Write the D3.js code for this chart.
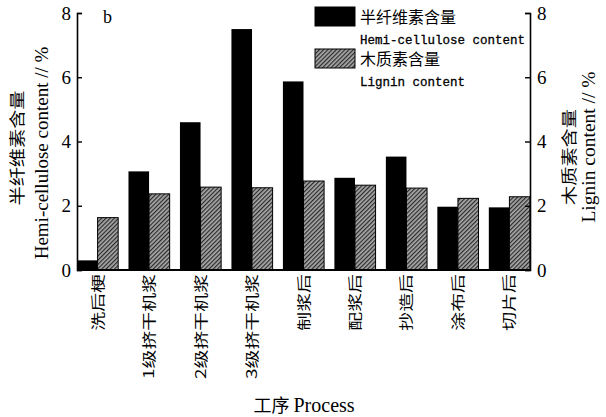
<!DOCTYPE html>
<html>
<head>
<meta charset="utf-8">
<script src="https://cdn.jsdelivr.net/npm/d3@7/dist/d3.min.js"></script>
<style>
  html, body { margin: 0; padding: 0; background: #fff; }
  svg { display: block; }
  .serif { font-family: "Liberation Serif", "Times New Roman", serif; }
  .cjk { font-family: "Noto Sans CJK SC", sans-serif; }
  .mono { font-family: "Liberation Mono", monospace; }
</style>
</head>
<body>
<div id="graph"></div>
<script>
const processes = ['洗后梗', '1级挤干机浆', '2级挤干机浆', '3级挤干机浆', '制浆后', '配浆后', '抄造后', '涂布后', '切片后'];
const hemiValues = [0.3, 3.07, 4.6, 7.5, 5.87, 2.87, 3.53, 1.97, 1.95];
const ligninValues = [1.63, 2.37, 2.58, 2.56, 2.77, 2.64, 2.55, 2.23, 2.28];
const yTicks = [0, 2, 4, 6, 8];

const SERIF = '"Liberation Serif", "Times New Roman", serif';

const W = 606;
const H = 417;
const margin = { top: 13, right: 76, bottom: 147, left: 77 };
const width = W - margin.left - margin.right;
const height = H - margin.top - margin.bottom;

const svg = d3.select('#graph')
  .append('svg')
  .attr('width', W)
  .attr('height', H);

// hatch for lignin bars
const defs = svg.append('defs');
const pat = defs.append('pattern')
  .attr('id', 'hatch')
  .attr('patternUnits', 'userSpaceOnUse')
  .attr('width', 3)
  .attr('height', 3)
  .attr('patternTransform', 'rotate(45)');
pat.append('rect').attr('width', 3).attr('height', 3).attr('fill', '#a8a8a8');
pat.append('line')
  .attr('x1', 0.6).attr('y1', 0).attr('x2', 0.6).attr('y2', 3)
  .attr('stroke', '#2a2a2a').attr('stroke-width', 1.2);

const g = svg.append('g')
  .attr('transform', `translate(${margin.left},${margin.top})`);

const xScale = d3.scaleBand()
  .domain(processes)
  .range([0, width])
  .paddingInner(0.2)
  .paddingOuter(0);

const sub = d3.scaleBand()
  .domain(['hemi', 'lignin'])
  .range([0, xScale.bandwidth()]);

const yScale = d3.scaleLinear().domain([0, 8]).range([height, 0]);

// bars
const groups = g.selectAll('.grp')
  .data(processes)
  .enter()
  .append('g')
  .attr('transform', (d) => `translate(${xScale(d)},0)`);

groups.append('rect')
  .attr('x', sub('hemi'))
  .attr('y', (d, i) => yScale(hemiValues[i]))
  .attr('width', sub.bandwidth())
  .attr('height', (d, i) => height - yScale(hemiValues[i]))
  .attr('fill', '#000');

groups.append('rect')
  .attr('x', sub('lignin'))
  .attr('y', (d, i) => yScale(ligninValues[i]))
  .attr('width', sub.bandwidth())
  .attr('height', (d, i) => height - yScale(ligninValues[i]))
  .attr('fill', 'url(#hatch)')
  .attr('stroke', '#000')
  .attr('stroke-width', 1);

// axes
const leftAxis = d3.axisLeft(yScale).tickValues(yTicks).tickSize(-5).tickPadding(6);
const rightAxis = d3.axisRight(yScale).tickValues(yTicks).tickSize(-5).tickPadding(7);

const styleAxis = (sel) => {
  sel.attr('font-family', SERIF).attr('font-size', 19);
  sel.select('.domain').attr('stroke', '#000').attr('stroke-width', 1.6);
  sel.selectAll('.tick line').attr('stroke', '#000').attr('stroke-width', 1.4);
  sel.selectAll('.tick text')
    .style('font-family', SERIF)
    .style('font-size', '19px')
    .attr('fill', '#000');
};

g.append('g').call(leftAxis).call(styleAxis);
g.append('g').attr('transform', `translate(${width},0)`).call(rightAxis).call(styleAxis);

g.append('line')
  .attr('x1', 0).attr('x2', width)
  .attr('y1', height).attr('y2', height)
  .attr('stroke', '#000').attr('stroke-width', 2);

// category labels, rotated
g.selectAll('.xlab')
  .data(processes)
  .enter()
  .append('text')
  .attr('class', 'cjk')
  .attr('transform', (d) => `translate(${xScale(d) + xScale.bandwidth() / 2 + 5},${height + 4}) rotate(-90) scale(1.35,1)`)
  .attr('text-anchor', 'end')
  .style('font-size', '14px')
  .text((d) => d);

// panel letter
g.append('text')
  .style('font-family', SERIF)
  .attr('x', 26).attr('y', 10)
  .style('font-size', '18px')
  .text('b');

// axis titles
svg.append('text')
  .attr('class', 'cjk')
  .attr('transform', 'translate(23,148) rotate(-90) scale(1.2,1)')
  .attr('text-anchor', 'middle')
  .style('font-size', '16px')
  .text('半纤维素含量');
svg.append('text')
  .style('font-family', SERIF)
  .attr('transform', 'translate(48,153) rotate(-90)')
  .attr('text-anchor', 'middle')
  .style('font-size', '19px')
  .text('Hemi-cellulose content // %');

svg.append('text')
  .attr('class', 'cjk')
  .attr('transform', 'translate(575,157) rotate(-90) scale(1.2,1)')
  .attr('text-anchor', 'middle')
  .style('font-size', '16px')
  .text('木质素含量');
svg.append('text')
  .style('font-family', SERIF)
  .attr('transform', 'translate(595,147) rotate(-90)')
  .attr('text-anchor', 'middle')
  .style('font-size', '19.5px')
  .text('Lignin content // %');

const xTitle = svg.append('text')
  .attr('x', 304).attr('y', 412)
  .attr('text-anchor', 'middle')
  .style('font-size', '18px');
xTitle.append('tspan').attr('class', 'cjk').text('工序 ');
xTitle.append('tspan').style('font-family', SERIF).style('font-size', '20px').text('Process');

// legend
const legendItems = [
  { zh: '半纤维素含量', en: 'Hemi-cellulose content', fill: '#000' },
  { zh: '木质素含量', en: 'Lignin content', fill: 'url(#hatch)' },
];
const legend = svg.append('g').attr('transform', 'translate(315,7)');
const li = legend.selectAll('.li')
  .data(legendItems)
  .enter()
  .append('g')
  .attr('transform', (d, i) => `translate(0,${i * 42})`);
li.append('rect')
  .attr('width', 40).attr('height', 19)
  .attr('fill', (d) => d.fill)
  .attr('stroke', '#000').attr('stroke-width', 1);
li.append('text')
  .attr('class', 'cjk')
  .attr('x', 45).attr('y', 16)
  .style('font-size', '16px')
  .text((d) => d.zh);
li.append('text')
  .attr('class', 'mono')
  .attr('x', 45).attr('y', 37)
  .style('font-size', '12.5px')
  .style('stroke', '#000')
  .style('stroke-width', 0.3)
  .text((d) => d.en);
</script>
</body>
</html>
